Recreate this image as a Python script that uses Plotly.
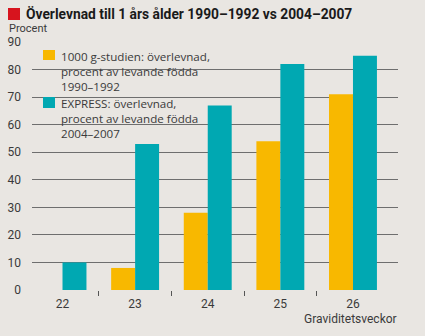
import plotly.graph_objects as go

weeks = [22, 23, 24, 25, 26]
study_1990 = [None, 8, 28, 54, 71]
express_2004 = [10, 53, 67, 82, 85]
y_ticks = [0, 10, 20, 30, 40, 50, 60, 70, 80, 90]

name_1990 = "1000 g-studien: överlevnad,<br>procent av levande födda<br>1990–1992"
name_2004 = "EXPRESS: överlevnad,<br>procent av levande födda<br>2004–2007"
title = "<b>Överlevnad till 1 års ålder 1990–1992 vs 2004–2007</b>"

BG = "#e9e6e2"
ORANGE = "#f8b800"
TEAL = "#00a8b2"
TXT = "#3a3a3a"
FONT = "Roboto"

W, H = 425, 336
L, R, T, B = 32, 27, 42, 46
PW, PH = W - L - R, H - T - B

def px(x):
    return (x - L) / PW

def py(y):
    return (H - B - y) / PH

fig = go.Figure()
fig.add_trace(go.Bar(x=weeks, y=study_1990, marker=dict(color=ORANGE, line=dict(width=0)), name=name_1990))
fig.add_trace(go.Bar(x=weeks, y=express_2004, marker=dict(color=TEAL, line=dict(width=0)), name=name_2004))

fig.update_layout(
    width=W, height=H,
    margin=dict(l=L, r=R, t=T, b=B, pad=0, autoexpand=False),
    paper_bgcolor=BG, plot_bgcolor=BG,
    barmode="group", bargap=0.34, bargroupgap=0,
    showlegend=False,
    font=dict(family=FONT, size=12, color=TXT),
    xaxis=dict(
        range=[21.58, 26.62], tickvals=weeks, ticktext=[str(w) for w in weeks],
        showgrid=False, zeroline=False, showline=False, ticks="", automargin=False,
        ticklabelstandoff=5, tickfont=dict(size=12, color=TXT),
    ),
    xaxis2=dict(
        overlaying="x", matches="x", side="bottom", anchor="y", automargin=False,
        tickvals=[22.5, 23.5, 24.5, 25.5], showticklabels=False,
        ticks="outside", ticklen=5, tickwidth=1, tickcolor="#555555",
        showgrid=False, zeroline=False, showline=False,
    ),
    yaxis=dict(
        range=[0, 90], tickvals=y_ticks, showgrid=True, gridcolor="#6e6e6e", gridwidth=1,
        zeroline=False, showline=False, ticks="", ticklabelstandoff=10, automargin=False,
        tickfont=dict(size=12, color=TXT),
    ),
)
fig.add_trace(go.Scatter(x=[22], y=[None], xaxis="x2", showlegend=False, hoverinfo="skip"))

# legend background covering gridlines
fig.add_shape(type="rect", xref="paper", yref="paper",
              x0=px(38), x1=px(207), y0=py(137), y1=py(40),
              fillcolor=BG, line=dict(width=0), layer="between")
# swatches
fig.add_shape(type="rect", xref="paper", yref="paper",
              x0=px(43), x1=px(55), y0=py(60), y1=py(50),
              fillcolor=ORANGE, line=dict(width=0))
fig.add_shape(type="rect", xref="paper", yref="paper",
              x0=px(43), x1=px(55), y0=py(108), y1=py(97),
              fillcolor=TEAL, line=dict(width=0))
fig.add_annotation(text=name_1990, xref="paper", yref="paper", x=px(60), y=py(48),
                   xanchor="left", yanchor="top", align="left", showarrow=False, borderpad=0,
                   font=dict(family="Open Sans", size=11.6, color=TXT))
fig.add_annotation(text=name_2004, xref="paper", yref="paper", x=px(60), y=py(94.5),
                   xanchor="left", yanchor="top", align="left", showarrow=False, borderpad=0,
                   font=dict(family="Open Sans", size=11.6, color=TXT))

# title block
fig.add_shape(type="rect", xref="paper", yref="paper",
              x0=px(8), x1=px(20), y0=py(20), y1=py(8),
              fillcolor="#d7141e", line=dict(width=0))
fig.add_annotation(text=title, xref="paper", yref="paper", x=px(24), y=py(14),
                   xanchor="left", yanchor="middle", showarrow=False,
                   font=dict(size=13.8, color="#1a1a1a"))
fig.add_annotation(text="Procent", xref="paper", yref="paper", x=px(7), y=py(28.5),
                   xanchor="left", yanchor="middle", showarrow=False,
                   font=dict(size=11, color=TXT))
fig.add_annotation(text="Graviditetsveckor", xref="paper", yref="paper", x=px(399), y=py(319),
                   xanchor="right", yanchor="middle", showarrow=False,
                   font=dict(size=12, color=TXT))

fig.write_html("out.html")
